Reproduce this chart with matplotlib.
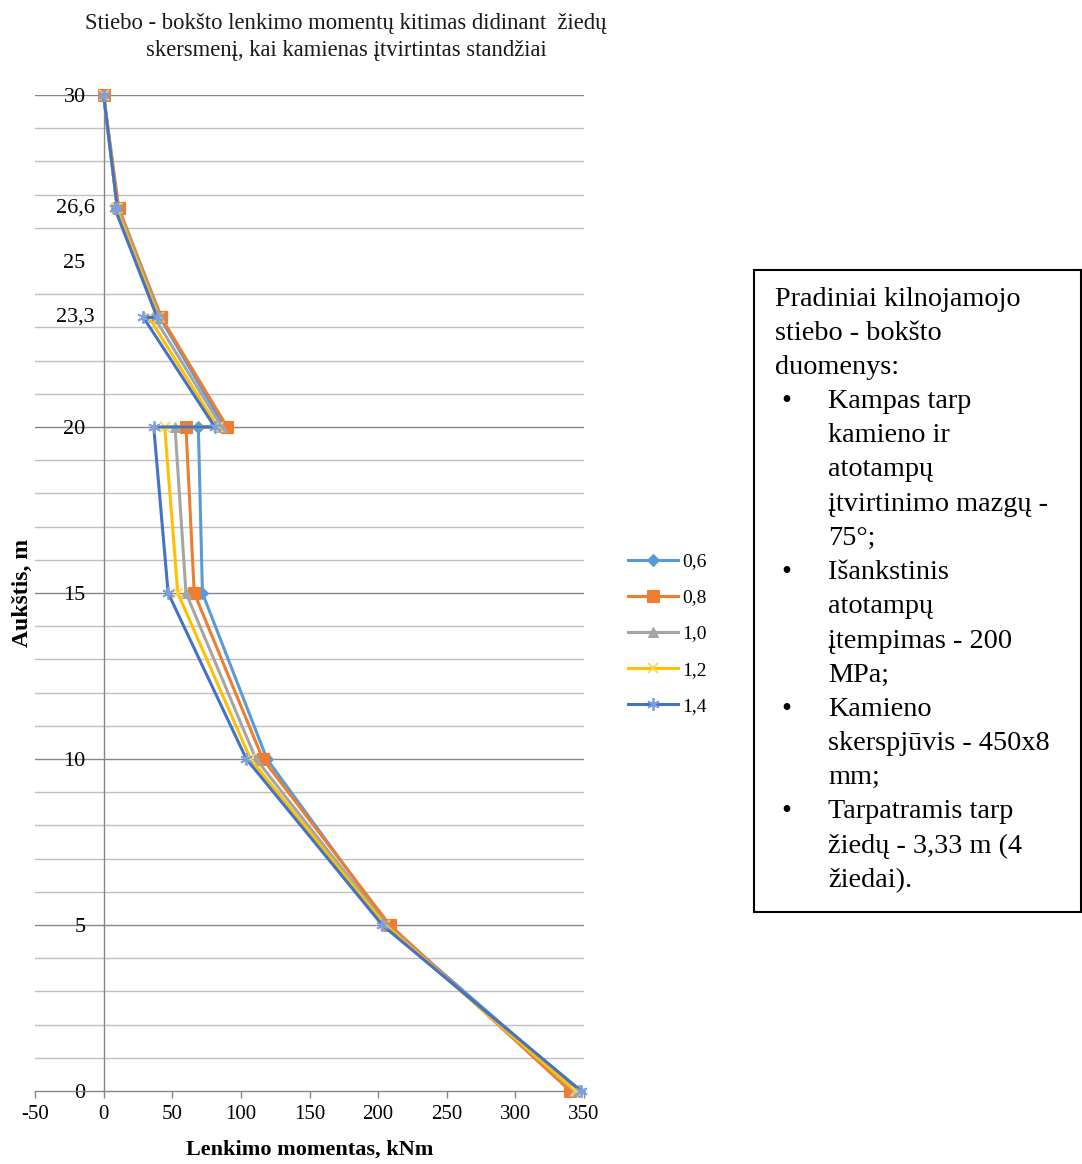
import matplotlib
matplotlib.use("Agg")
import matplotlib.pyplot as plt
from matplotlib.patches import Rectangle

plt.rcParams['font.family'] = ['Liberation Serif', 'DejaVu Serif']

# ---- data ----
heights = [30, 26.6, 26.6, 23.3, 23.3, 20, 20, 15, 10, 5, 0]
series_names = ["0,6", "0,8", "1,0", "1,2", "1,4"]
m06 = [0, 10, 10, 42, 41, 88, 69, 72, 119, 207, 346]
m08 = [0, 11, 11, 42, 42, 90, 60, 66, 116, 208.5, 340]
m10 = [0, 10, 10, 41, 37, 86, 52, 60, 111, 206, 343]
m12 = [0, 10, 9, 40, 33, 83, 44.5, 54, 107, 205, 344]
m14 = [0, 10, 8, 39, 29, 81, 36.5, 47, 104, 203, 348]
series_values = [m06, m08, m10, m12, m14]

x_ticks = [-50, 0, 50, 100, 150, 200, 250, 300, 350]
y_major = [0, 5, 10, 15, 20, 25, 30]
y_minor = [h for h in range(0, 31) if h % 5 != 0]
extra_labels = [26.6, 23.3]

title = "Stiebo - bokšto lenkimo momentų kitimas didinant  žiedų\nskersmenį, kai kamienas įtvirtintas standžiai"
xlabel = "Lenkimo momentas, kNm"
ylabel = "Aukštis, m"

info_lines = [
    ("", "Pradiniai kilnojamojo"),
    ("", "stiebo - bokšto"),
    ("", "duomenys:"),
    ("•", "Kampas tarp"),
    (None, "kamieno ir"),
    (None, "atotampų"),
    (None, "įtvirtinimo mazgų -"),
    (None, "75°;"),
    ("•", "Išankstinis"),
    (None, "atotampų"),
    (None, "įtempimas - 200"),
    (None, "MPa;"),
    ("•", "Kamieno"),
    (None, "skerspjūvis - 450x8"),
    (None, "mm;"),
    ("•", "Tarpatramis tarp"),
    (None, "žiedų - 3,33 m (4"),
    (None, "žiedai)."),
]

# ---- styles ----
colors = ["#5B9BD5", "#ED7D31", "#A5A5A5", "#FFC000", "#4472C4"]
marker_colors = ["#5B9BD5", "#ED7D31", "#A5A5A5", "#FFD54F", "#7F9FDC"]
markers = ["D", "s", "^", "x", (6, 2, 0)]
msizes = [6, 8, 7, 7, 9]

W, H = 1082, 1164
fig = plt.figure(figsize=(W / 100, H / 100), dpi=100)
ax = fig.add_axes([35 / W, 1 - 1091 / H, (584 - 35) / W, (1091 - 95) / H])
ax.set_xlim(-50, 350)
ax.set_ylim(0, 30)

for name, vals, c, mc, mk, ms in zip(series_names, series_values, colors, marker_colors, markers, msizes):
    ax.plot(vals, heights, color=c, lw=2.2, marker=mk, markersize=ms,
            markerfacecolor=mc, markeredgecolor=mc,
            markeredgewidth=1.3 if (mk == "x" or isinstance(mk, tuple)) else 0.8,
            label=name, zorder=3, clip_on=False)

# axes styling
for s in ["top", "right"]:
    ax.spines[s].set_visible(False)
ax.spines["left"].set_position(("data", 0))
ax.spines["left"].set_color("#868686")
ax.spines["bottom"].set_color("#868686")
ax.spines["left"].set_linewidth(1.0)
ax.spines["bottom"].set_linewidth(1.0)

ax.set_xticks(x_ticks)
ax.set_xticklabels([str(v) for v in x_ticks])
ax.tick_params(axis="x", direction="out", length=5, width=1, color="#868686",
               labelsize=15, pad=5, labelcolor="#000000")

ax.set_yticks(y_major)
ax.set_yticklabels([str(v) for v in y_major])
ax.set_yticks(y_minor, minor=True)
ax.tick_params(axis="y", which="both", length=0, labelsize=16, pad=13, labelcolor="#000000")

ax.set_axisbelow(True)
ax.grid(axis="y", which="major", color="#868686", lw=1.0)
ax.grid(axis="y", which="minor", color="#BFBFBF", lw=1.0)
ax.grid(axis="x", visible=False)
for t in ax.yaxis.get_major_ticks():
    if abs(t.get_loc() - 25) < 1e-6 or abs(t.get_loc()) < 1e-6:
        t.gridline.set_visible(False)
for t in ax.yaxis.get_minor_ticks():
    if abs(t.get_loc() - 26) < 1e-6:
        t.gridline.set_color("#A0A0A0")
        t.gridline.set_linewidth(2.0)

for v in extra_labels:
    ax.text(-6.5, v, str(v).replace(".", ","), ha="right", va="center", fontsize=16,
            color="#000000", zorder=2)

# titles
fig.text(346 / W, 1 - 37 / H, title, ha="center", va="center", fontsize=16.3,
         color="#1a1a1a", linespacing=1.4)
fig.text(310 / W, 1 - 1150 / H, xlabel, ha="center", va="center", fontsize=16,
         fontweight="bold")
fig.text(22 / W, 1 - 593 / H, ylabel, ha="center", va="center", fontsize=17,
         fontweight="bold", rotation=90)

# legend
leg = fig.legend(loc="upper left", bbox_to_anchor=(620 / W, 1 - 545 / H), frameon=False,
                 fontsize=14, handlelength=2.6, handletextpad=0.2, labelspacing=0.95,
                 borderaxespad=0)

# info box
fig.patches.append(Rectangle((754 / W, 1 - 912 / H), (1081 - 754) / W, (912 - 270) / H,
                             transform=fig.transFigure, facecolor="white",
                             edgecolor="black", lw=1.5))
y0, step = 299, 34.2
for i, (bullet, txt) in enumerate(info_lines):
    y = 1 - (y0 + i * step) / H
    if bullet == "":
        fig.text(775 / W, y, txt, ha="left", va="center", fontsize=20.3)
    else:
        if bullet:
            fig.text(781 / W, y, bullet, ha="left", va="center", fontsize=20.3)
        fig.text(828 / W, y, txt, ha="left", va="center", fontsize=20.3)

fig.savefig("out.png", dpi=100)
